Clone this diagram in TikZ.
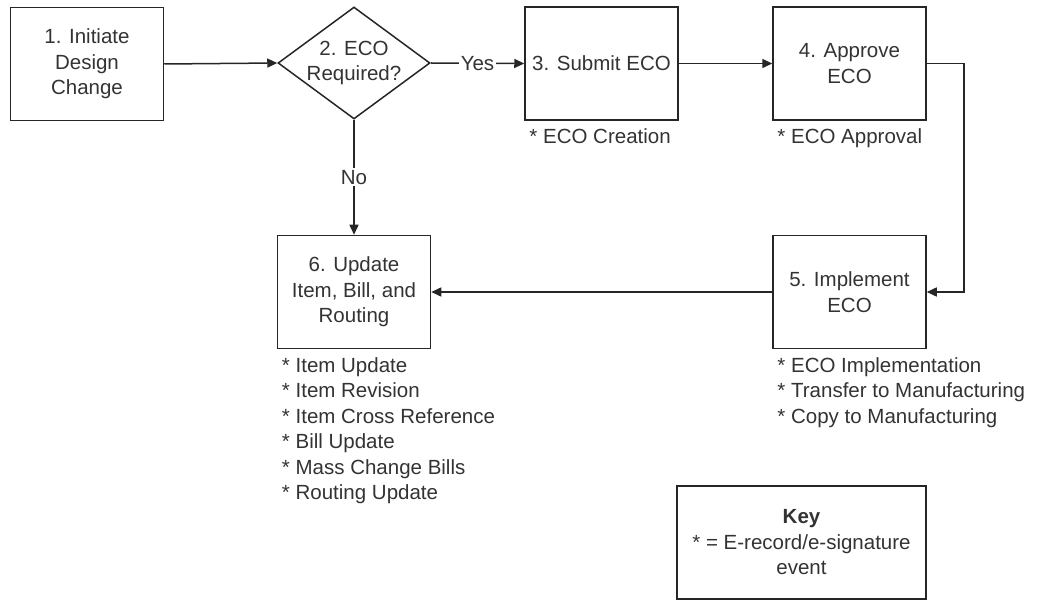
\documentclass[tikz,border=0pt]{standalone}
\usepackage{fontspec}
\setmainfont{Liberation Sans}
\usetikzlibrary{shapes.geometric,arrows.meta,positioning}

\tikzset{
  every node/.style={font=\fontsize{20.5}{25.5}\selectfont, text=black!80},
  boite/.style={draw=black!85, line width=1.5pt, rectangle, minimum width=153pt, minimum height=113pt, align=center, inner sep=2pt},
  losange/.style={draw=black!85, line width=1.5pt, diamond, aspect=1.36, minimum width=152pt, minimum height=112pt, inner sep=-2pt, align=center},
  note/.style={anchor=north west, align=left, inner xsep=5pt, inner ysep=8pt},
  fleche/.style={line width=1.5pt, draw=black!85, -{Triangle[length=10pt,width=9pt]}},
  etiquette/.style={fill=white, inner sep=2pt}
}

\begin{document}
\begin{tikzpicture}[x=1pt, y=-1pt]
   % Cadre de l'image
   \useasboundingbox (0,0) rectangle (1051,601);

   % Les etapes
   \node[boite] (initier) at (87,64) {1. Initiate\\Design\\Change};
   \node[losange] (eco) at (354,63) {2. ECO\\Required?};
   \node[boite] (soumettre) at (601.5,63.5) {3. Submit ECO};
   \node[boite] (approuver) at (849.5,63.5) {4. Approve\\ECO};
   \node[boite] (implanter) at (849.5,292) {5. Implement\\ECO};
   \node[boite] (maj) at (354,292) {6. Update\\Item, Bill, and\\Routing};

   % Les evenements sous chaque etape
   \node[note] (n3) at (soumettre.south west) {* ECO Creation};
   \node[note] (n4) at (approuver.south west) {* ECO Approval};
   \node[note] (n5) at (implanter.south west) {* ECO Implementation\\{}* Transfer to Manufacturing\\{}* Copy to Manufacturing};
   \node[note] (n6) at (maj.south west) {* Item Update\\{}* Item Revision\\{}* Item Cross Reference\\{}* Bill Update\\{}* Mass Change Bills\\{}* Routing Update};

   % La legende
   \node[boite, minimum width=249pt] (cle) at (801.5,542.5) {\textbf{Key}\\{}* = E-record/e-signature\\event};

   % Les fleches
   \draw[fleche] (initier.east) -- (eco.west);
   \draw[fleche] (eco.east) -- node[etiquette] {Yes} (soumettre.west);
   \draw[fleche] (soumettre.east) -- (approuver.west);
   \draw[fleche] (approuver.east) -- ++(37,0) |- (implanter.east);
   \draw[fleche] (implanter.west) -- (maj.east);
   \draw[fleche] (eco.south) -- node[etiquette] {No} (maj.north);
\end{tikzpicture}
\end{document}
